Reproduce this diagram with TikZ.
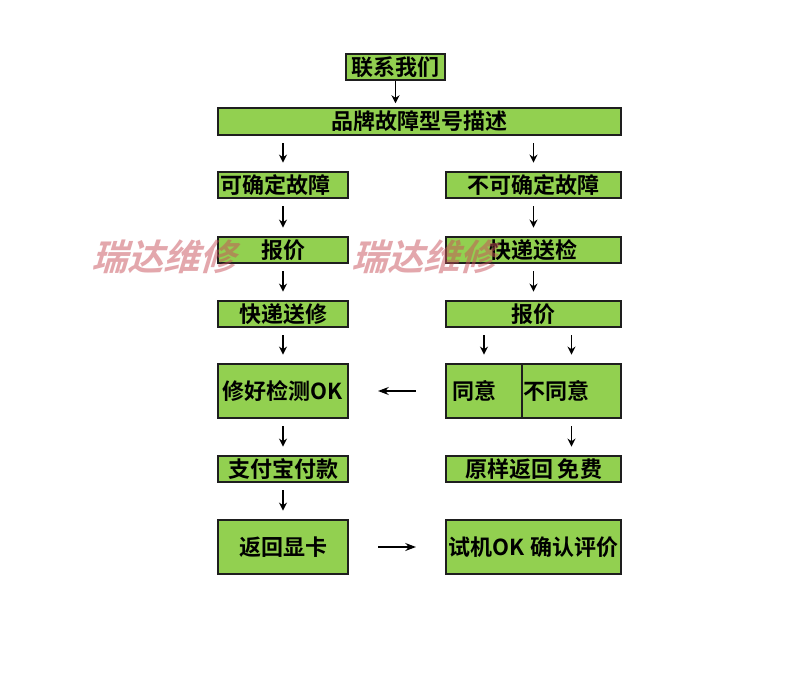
\documentclass[tikz,border=0pt]{standalone}
\usepackage{fontspec}
\setmainfont{Noto Sans CJK SC}[BoldFont={Noto Sans CJK SC Bold}]
\usetikzlibrary{arrows.meta}
\definecolor{boxgreen}{RGB}{146,208,80}
\definecolor{boxline}{RGB}{30,30,30}
\definecolor{wmpink}{RGB}{200,80,90}
\newcommand{\mkbox}[6]{%
  \node[gbox, minimum width={0.75pt*(#4-#2)}, minimum height={0.75pt*(#5-#3)}] (#1) at ({(#2+#4)/2},{(#3+#5)/2}) {#6};}
\tikzset{
  gbox/.style={draw=boxline, fill=boxgreen, line width=1.1pt, inner sep=0pt,
    font=\fontsize{16.5pt}{18pt}\selectfont\bfseries},
  varrow/.style={-{Stealth[length=6pt,width=6pt]}, line width=1.3pt, black,
    shorten <=5.5pt, shorten >=6.5pt},
  harrow/.style={-{Stealth[length=8pt,width=6pt]}, line width=0.9pt, black,
    shorten <=22pt, shorten >=22pt},
  wm/.style={font=\fontsize{27pt}{30pt}\selectfont\bfseries, text=wmpink,
    opacity=0.5, xslant=0.3, inner sep=0pt}
}
\begin{document}
\begin{tikzpicture}[x=0.75pt,y=-0.75pt]
\useasboundingbox (0,0) rectangle (800,673);
\fill[white] (0,0) rectangle (800,673);
\mkbox{lx}{346}{54}{445}{80}{联系我们}
\mkbox{pp}{218}{108}{621}{135}{品牌故障型号描述}
\mkbox{kq}{218}{172}{348}{198}{可确定故障\kern11pt}
\mkbox{bkq}{446}{172}{621}{198}{不可确定故障}
\mkbox{bja}{218}{237}{348}{263}{报价}
\mkbox{kdsj}{446}{237}{621}{263}{快递送检}
\mkbox{kdsx}{218}{301}{348}{327}{快递送修}
\mkbox{bjb}{446}{301}{621}{327}{报价}
\mkbox{xh}{218}{364}{348}{418}{修好检测OK}
\mkbox{ty}{446}{364}{522}{418}{同意\kern15pt}
\mkbox{bty}{522}{364}{621}{418}{不同意\kern23pt}
\mkbox{zfb}{218}{456}{348}{482}{支付宝付款}
\mkbox{yy}{446}{456}{621}{482}{原样返回 免费}
\mkbox{fh}{218}{520}{348}{574}{返回显卡}
\mkbox{sj}{446}{520}{621}{574}{试机OK 确认评价}
% arrows
\draw[varrow, shorten <=0pt, shorten >=3pt] (lx.south) -- (lx.south |- pp.north);
\draw[varrow] (pp.south -| kq.north) -- (kq.north);
\draw[varrow] (pp.south -| bkq.north) -- (bkq.north);
\draw[varrow] (kq) -- (bja);
\draw[varrow] (bkq) -- (kdsj);
\draw[varrow] (bja) -- (kdsx);
\draw[varrow] (kdsj) -- (bjb);
\draw[varrow] (kdsx) -- (xh);
\draw[varrow] (bjb.south -| ty.north) -- (ty.north);
\draw[varrow] (bjb.south -| bty.north) -- (bty.north);
\draw[varrow] (xh) -- (zfb);
\draw[varrow] (bty.south) -- (bty.south |- yy.north);
\draw[varrow] (zfb) -- (fh);
\draw[harrow] (ty.west) -- (xh.east);
\draw[harrow] (fh.east) -- (sj.west);
% watermark
\node[wm] (wma) at (168,257) {瑞达维修};
\node[wm] (wmb) at (428,257) {瑞达维修};
\end{tikzpicture}
\end{document}
